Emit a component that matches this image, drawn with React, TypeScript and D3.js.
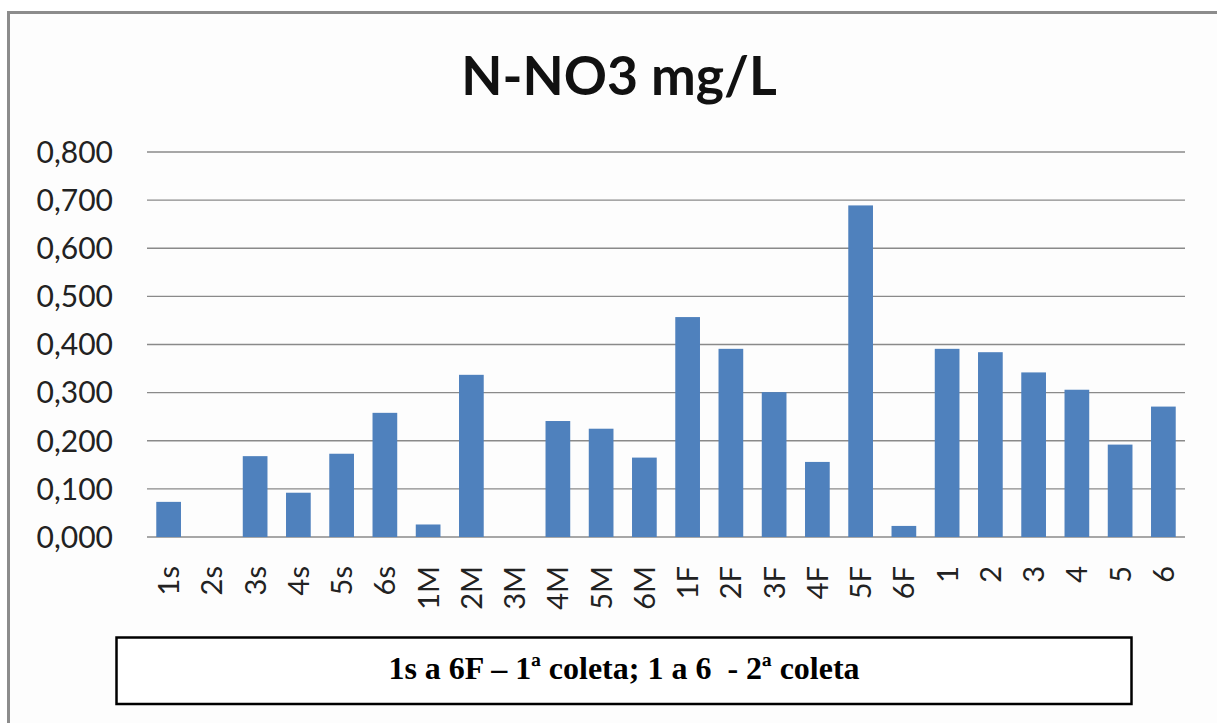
import React from 'react';
import * as d3 from 'd3';

const categories = [
  '1s', '2s', '3s', '4s', '5s', '6s',
  '1M', '2M', '3M', '4M', '5M', '6M',
  '1F', '2F', '3F', '4F', '5F', '6F',
  '1', '2', '3', '4', '5', '6',
];

const values = [
  0.073, 0, 0.168, 0.092, 0.173, 0.258,
  0.026, 0.337, 0, 0.241, 0.225, 0.165,
  0.457, 0.391, 0.301, 0.156, 0.689, 0.023,
  0.391, 0.384, 0.342, 0.306, 0.192, 0.271,
];

const yTicks = [0, 0.1, 0.2, 0.3, 0.4, 0.5, 0.6, 0.7, 0.8];

const title = 'N-NO3 mg/L';
const note = '1s a 6F – 1ª coleta; 1 a 6  - 2ª coleta';

const W = 1217;
const H = 723;

// decimal comma, like the pt-BR original
const ptLocale = d3.formatLocale({ decimal: ',', thousands: '.', grouping: [3], currency: ['R$', ''] });
const fmt = ptLocale.format('.3f');

const App = () => {
  const x = d3
    .scaleBand<string>()
    .domain(categories)
    .range([147, 1185])
    .paddingInner(0.4286)
    .paddingOuter(0.2143);

  const y = d3.scaleLinear().domain([0, 0.8]).range([537, 152]);

  return (
    <svg
      width={W}
      height={H}
      style={{ position: 'absolute', left: 0, top: 0, background: '#fff' }}
    >
      {/* chart frame, cut by the picture edge at right and bottom */}
      <rect x={8.5} y={12.5} width={1300} height={800} fill="#fdfdfd" stroke="#8c8c8c" strokeWidth={3} />

      <text
        x={619}
        y={95}
        textAnchor="middle"
        fontFamily="Lato, 'Open Sans', sans-serif"
        fontWeight="bold"
        fontSize={53.5}
        fill="#111"
      >
        {title}
      </text>

      {/* gridlines + y labels */}
      <g>
        {yTicks.map((t) => (
          <g key={t}>
            <line x1={147} x2={1185} y1={y(t)} y2={y(t)} stroke="#8a8a8a" strokeWidth={1.3} />
            <text
              x={113}
              y={y(t)}
              dy="0.36em"
              textAnchor="end"
              fontFamily="Lato, 'Open Sans', sans-serif"
              fontSize={30}
              fill="#222"
            >
              {fmt(t)}
            </text>
          </g>
        ))}
      </g>

      {/* bars */}
      <g>
        {categories.map((c, i) => (
          <rect
            key={c}
            x={x(c) as number}
            y={y(values[i])}
            width={x.bandwidth()}
            height={y(0) - y(values[i])}
            fill="#4f81bd"
          />
        ))}
      </g>

      {/* x labels, rotated */}
      <g>
        {categories.map((c) => {
          const cx = (x(c) as number) + x.bandwidth() / 2;
          return (
            <text
              key={c}
              transform={`translate(${cx},566) rotate(-90)`}
              dy="0.36em"
              textAnchor="end"
              fontFamily="Lato, 'Open Sans', sans-serif"
              fontSize={29}
              fill="#222"
            >
              {c}
            </text>
          );
        })}
      </g>

      {/* note box */}
      <rect x={116.5} y={637.5} width={1015} height={66.5} fill="#fff" stroke="#000" strokeWidth={2.5} />
      <text
        x={624}
        y={679}
        textAnchor="middle"
        fontFamily="'Liberation Serif', 'Times New Roman', serif"
        fontWeight="bold"
        fontSize={32}
        fill="#000"
        style={{ whiteSpace: 'pre' }}
      >
        {note}
      </text>
    </svg>
  );
};

export default App;
